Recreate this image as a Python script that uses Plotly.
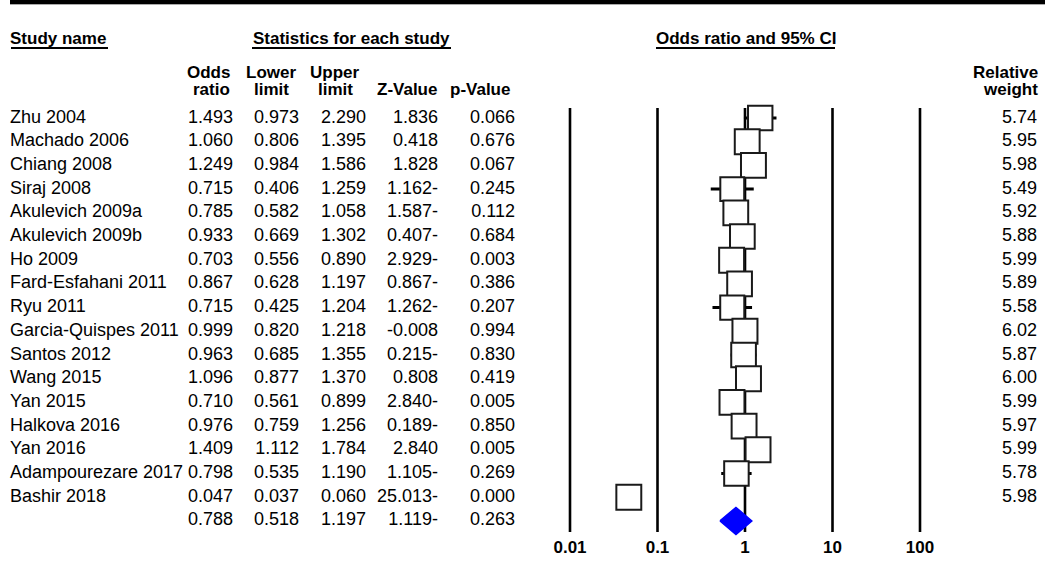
import numpy as np
import plotly.graph_objects as go

# ---------------- data ----------------
studies = ["Zhu 2004", "Machado 2006", "Chiang 2008", "Siraj 2008", "Akulevich 2009a",
           "Akulevich 2009b", "Ho 2009", "Fard-Esfahani 2011", "Ryu 2011",
           "Garcia-Quispes 2011", "Santos 2012", "Wang 2015", "Yan 2015",
           "Halkova 2016", "Yan 2016", "Adampourezare 2017", "Bashir 2018"]
odds_ratio = [1.493, 1.060, 1.249, 0.715, 0.785, 0.933, 0.703, 0.867, 0.715,
              0.999, 0.963, 1.096, 0.710, 0.976, 1.409, 0.798, 0.047]
lower_limit = [0.973, 0.806, 0.984, 0.406, 0.582, 0.669, 0.556, 0.628, 0.425,
               0.820, 0.685, 0.877, 0.561, 0.759, 1.112, 0.535, 0.037]
upper_limit = [2.290, 1.395, 1.586, 1.259, 1.058, 1.302, 0.890, 1.197, 1.204,
               1.218, 1.355, 1.370, 0.899, 1.256, 1.784, 1.190, 0.060]
z_value = ["1.836", "0.418", "1.828", "1.162-", "1.587-", "0.407-", "2.929-", "0.867-",
           "1.262-", "-0.008", "0.215-", "0.808", "2.840-", "0.189-", "2.840", "1.105-",
           "25.013-"]
p_value = ["0.066", "0.676", "0.067", "0.245", "0.112", "0.684", "0.003", "0.386", "0.207",
           "0.994", "0.830", "0.419", "0.005", "0.850", "0.005", "0.269", "0.000"]
rel_weight = [5.74, 5.95, 5.98, 5.49, 5.92, 5.88, 5.99, 5.89, 5.58, 6.02, 5.87, 6.00,
              5.99, 5.97, 5.99, 5.78, 5.98]
summary_or = 0.788
summary_lower = 0.518
summary_upper = 1.197
summary_z = "1.119-"
summary_p = "0.263"
axis_ticks = [0.01, 0.1, 1, 10, 100]
axis_tick_labels = ["0.01", "0.1", "1", "10", "100"]

# ---------------- layout helpers ----------------
FONT = "Liberation Sans, Arial, sans-serif"
FS = 18      # body text
FSB = 17     # bold headers
W, H = 1045, 570
ROW0, ROWH = 118.0, 23.7


def row_of(px):
    return (px - ROW0) / ROWH


n = len(studies)
rows = list(range(n))
sum_row = n

fig = go.Figure()

# vertical reference lines at the axis ticks
vx, vy = [], []
for t in axis_ticks:
    vx += [t, t, None]
    vy += [row_of(108), row_of(532), None]
fig.add_trace(go.Scatter(x=vx, y=vy, mode="lines", line=dict(color="black", width=2.6),
                         hoverinfo="skip"))

# confidence-interval whiskers
wx, wy = [], []
for i in rows:
    wx += [lower_limit[i], upper_limit[i], None]
    wy += [i, i, None]
fig.add_trace(go.Scatter(x=wx, y=wy, mode="lines", line=dict(color="black", width=3),
                         hoverinfo="skip"))

# study boxes
sizes = [25 * np.sqrt(w / max(rel_weight)) for w in rel_weight]
fig.add_trace(go.Scatter(x=odds_ratio, y=rows, mode="markers",
                         marker=dict(symbol="square", size=sizes, color="white", opacity=1,
                                     line=dict(color="#1a1a1a", width=2)),
                         hoverinfo="skip"))

# summary diamond
fig.add_trace(go.Scatter(x=[summary_lower, summary_or, summary_upper, summary_or, summary_lower],
                         y=[sum_row, sum_row - 0.57, sum_row, sum_row + 0.57, sum_row],
                         mode="lines", fill="toself", fillcolor="#0000ff",
                         line=dict(color="#0000ff", width=1.5), hoverinfo="skip"))

# axis tick labels
fig.add_trace(go.Scatter(x=axis_ticks, y=[row_of(549)] * len(axis_ticks), mode="text",
                         text=["<b>" + s + "</b>" for s in axis_tick_labels],
                         textposition="middle center",
                         textfont=dict(family=FONT, size=FSB, color="black"),
                         marker=dict(size=0), hoverinfo="skip"))


def text_col(xpx, ys, texts, pos="middle left"):
    fig.add_trace(go.Scatter(x=[xpx] * len(ys), y=ys, xaxis="x2", mode="text", text=texts,
                             textposition=pos,
                             textfont=dict(family=FONT, size=FS, color="black"),
                             marker=dict(size=0), hoverinfo="skip"))


all_rows = rows + [sum_row]
text_col(10, rows, studies, pos="middle right")
text_col(233, all_rows, [f"{v:.3f}" for v in odds_ratio + [summary_or]])
text_col(299, all_rows, [f"{v:.3f}" for v in lower_limit + [summary_lower]])
text_col(366, all_rows, [f"{v:.3f}" for v in upper_limit + [summary_upper]])
text_col(438, all_rows, z_value + [summary_z])
text_col(515, all_rows, p_value + [summary_p])
text_col(1037, rows, [f"{v:.2f}" for v in rel_weight])

annotations = []


def header(text, xpx, ypx, anchor="center"):
    annotations.append(dict(text="<b>" + text + "</b>", x=xpx, y=row_of(ypx), xref="x2",
                            yref="y", xanchor=anchor, yanchor="middle", showarrow=False,
                            borderpad=0, borderwidth=0,
                            font=dict(family=FONT, size=FSB, color="black")))


header("Study name", 10, 38, "left")
header("Statistics for each study", 351.5, 38)
header("Odds ratio and 95% CI", 746, 38)
header("Odds", 230, 72, "right")
header("ratio", 230, 89, "right")
header("Lower", 271, 72)
header("limit", 271, 89)
header("Upper", 335, 72)
header("limit", 335, 89)
header("Z-Value", 406.5, 89)
header("p-Value", 480, 89)
header("Relative", 1038, 72, "right")
header("weight", 1038, 89, "right")

shapes = [
    dict(type="rect", xref="x2", yref="paper", x0=10, x1=W, y0=1 - 4 / H, y1=1,
         fillcolor="black", line=dict(width=0)),
    dict(type="line", xref="x2", yref="paper", x0=10, x1=W, y0=1 - 4.5 / H, y1=1 - 4.5 / H,
         line=dict(color="#aaaaaa", width=1)),
]
for x0, x1 in [(11, 108), (252, 451), (656, 835)]:
    shapes.append(dict(type="line", xref="x2", yref="y", x0=x0, x1=x1,
                       y0=row_of(48), y1=row_of(48), line=dict(color="black", width=2)))

# log x-axis: 0.01 at 570 px, 87.5 px per decade
px_per_dec = 87.5
r0 = -2 - 570 / px_per_dec
r1 = r0 + W / px_per_dec

fig.update_layout(
    width=W, height=H, autosize=False,
    margin=dict(l=0, r=0, t=0, b=0, pad=0),
    paper_bgcolor="white", plot_bgcolor="white",
    showlegend=False,
    xaxis=dict(type="log", range=[r0, r1], visible=False, domain=[0, 1]),
    xaxis2=dict(range=[0, W], overlaying="x", visible=False),
    yaxis=dict(range=[row_of(H), row_of(0)], visible=False),
    annotations=annotations,
    shapes=shapes,
)

fig.write_html("out.html")
